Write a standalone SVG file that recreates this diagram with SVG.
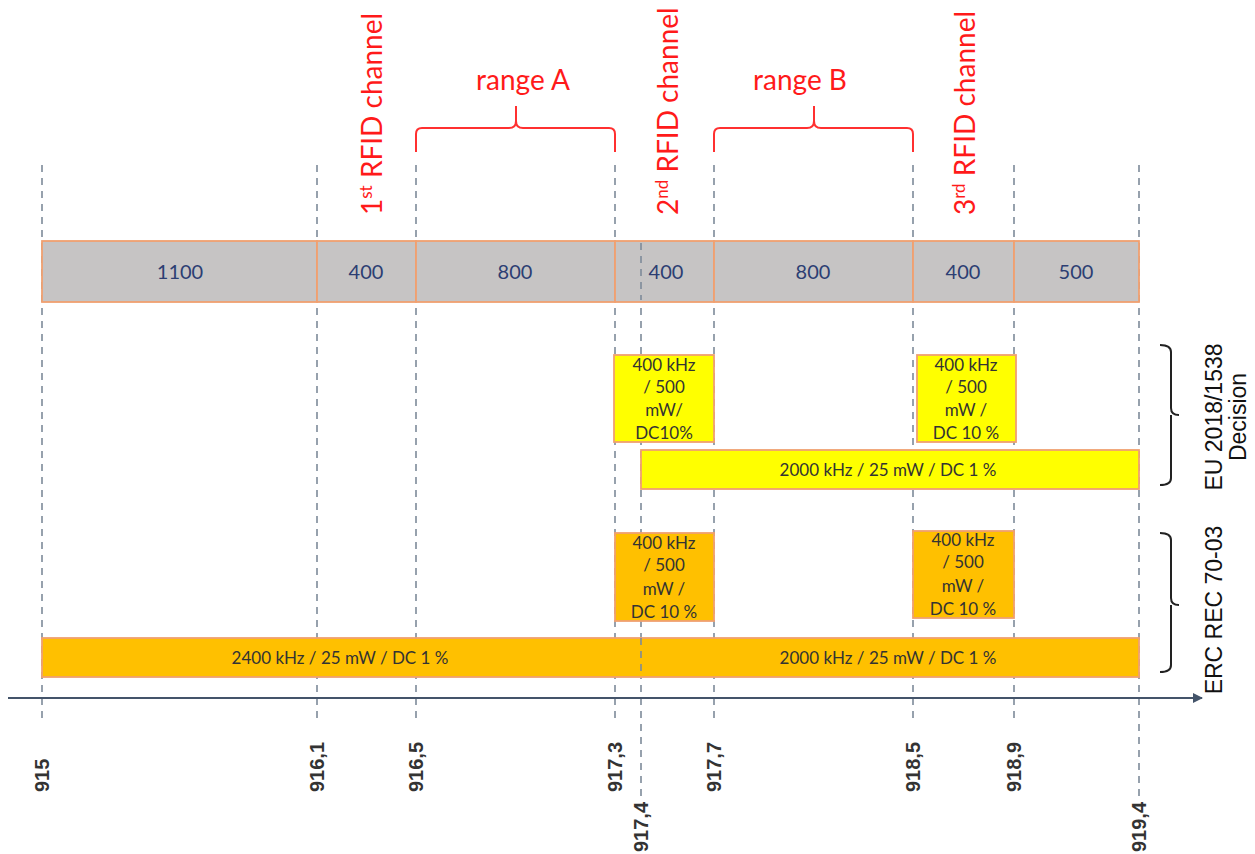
<svg xmlns="http://www.w3.org/2000/svg" width="1255" height="854" viewBox="0 0 1255 854">
<defs>
<style>
.dash{stroke:#7d8a99;stroke-width:1.6;stroke-dasharray:7 6;fill:none}
.seg{fill:#c6c4c4;stroke:#f0a070;stroke-width:1.8}
.segt{font-family:Lato,"Liberation Sans",sans-serif;font-size:20px;fill:#2c3e73;text-anchor:middle}
.ybox{fill:#ffff00;stroke:#f0a070;stroke-width:1.8}
.obox{fill:#ffc000;stroke:#f0a070;stroke-width:1.8}
.bt{font-family:Lato,"Liberation Sans",sans-serif;font-size:17px;fill:#333;text-anchor:middle}
.red{font-family:Lato,"Liberation Sans",sans-serif;font-size:28px;fill:#ff1a1a}
.brace{fill:none;stroke:#ff3030;stroke-width:2}
.rb{fill:none;stroke:#222;stroke-width:2}
.rl{font-family:"Liberation Sans",Arial,sans-serif;font-size:23px;fill:#111;text-anchor:middle}
.ax{font-family:"Liberation Sans",Arial,sans-serif;font-size:20px;font-weight:bold;fill:#333}
</style>
<marker id="arr" markerWidth="10" markerHeight="10" refX="9" refY="5" orient="auto" markerUnits="userSpaceOnUse"><path d="M0,0 L10,5 L0,10 z" fill="#44546a"/></marker>
</defs>
<rect width="1255" height="854" fill="#fff"/>
<g id="gridlines">
<line class="dash" x1="42" y1="165" x2="42" y2="718"/>
<line class="dash" x1="317" y1="165" x2="317" y2="718"/>
<line class="dash" x1="416" y1="165" x2="416" y2="718"/>
<line class="dash" x1="615" y1="165" x2="615" y2="718"/>
<line class="dash" x1="641" y1="243" x2="641" y2="800"/>
<line class="dash" x1="714" y1="165" x2="714" y2="718"/>
<line class="dash" x1="913" y1="165" x2="913" y2="718"/>
<line class="dash" x1="1014" y1="165" x2="1014" y2="718"/>
<line class="dash" x1="1139" y1="165" x2="1139" y2="796"/>
</g>
<g id="connectors">
<line x1="8" y1="698" x2="1202" y2="698" stroke="#44546a" stroke-width="2" marker-end="url(#arr)"/>
</g>
<g id="bar">
<rect class="seg" x="42" y="241" width="275" height="61"/>
<rect class="seg" x="317" y="241" width="99" height="61"/>
<rect class="seg" x="416" y="241" width="199" height="61"/>
<rect class="seg" x="615" y="241" width="99" height="61"/>
<rect class="seg" x="714" y="241" width="199" height="61"/>
<rect class="seg" x="913" y="241" width="101" height="61"/>
<rect class="seg" x="1014" y="241" width="125" height="61"/>
<line class="dash" x1="641" y1="243" x2="641" y2="300"/>
<text class="segt" x="180" y="279">1100</text>
<text class="segt" x="366" y="279">400</text>
<text class="segt" x="515" y="279">800</text>
<text class="segt" x="666" y="279">400</text>
<text class="segt" x="813" y="279">800</text>
<text class="segt" x="963" y="279">400</text>
<text class="segt" x="1076" y="279">500</text>
</g>
<g id="eu-box1">
<rect class="ybox" x="614" y="355" width="100" height="87"/>
<text class="bt" x="664" y="371">400 kHz</text>
<text class="bt" x="664" y="393">/ 500</text>
<text class="bt" x="664" y="416">mW/</text>
<text class="bt" x="664" y="439">DC10%</text>
</g>
<g id="eu-box2">
<rect class="ybox" x="917" y="355" width="99" height="87"/>
<text class="bt" x="966" y="371">400 kHz</text>
<text class="bt" x="966" y="393">/ 500</text>
<text class="bt" x="966" y="416">mW /</text>
<text class="bt" x="966" y="439">DC 10 %</text>
</g>
<g id="eu-bar">
<rect class="ybox" x="641" y="450" width="498" height="39"/>
<text class="bt" x="888" y="476">2000 kHz / 25 mW / DC 1 %</text>
</g>
<g id="erc-box1">
<rect class="obox" x="615" y="533" width="99" height="88"/>
<text class="bt" x="664" y="549">400 kHz</text>
<text class="bt" x="664" y="571">/ 500</text>
<text class="bt" x="664" y="595">mW /</text>
<text class="bt" x="664" y="618">DC 10 %</text>
</g>
<g id="erc-box2">
<rect class="obox" x="913" y="531" width="101" height="87"/>
<text class="bt" x="963" y="546">400 kHz</text>
<text class="bt" x="963" y="568">/ 500</text>
<text class="bt" x="963" y="592">mW /</text>
<text class="bt" x="963" y="615">DC 10 %</text>
</g>
<g id="erc-bar">
<rect class="obox" x="42" y="638" width="1097" height="39"/>
<line class="dash" x1="641" y1="638" x2="641" y2="677"/>
<text class="bt" x="340" y="664">2400 kHz / 25 mW / DC 1 %</text>
<text class="bt" x="888" y="664">2000 kHz / 25 mW / DC 1 %</text>
</g>
<g id="ch1"><text class="red" transform="translate(382,215) rotate(-90)">1<tspan dy="-10" font-size="17">st</tspan><tspan dy="10"> RFID channel</tspan></text></g>
<g id="ch2"><text class="red" transform="translate(678,215) rotate(-90)">2<tspan dy="-10" font-size="17">nd</tspan><tspan dy="10"> RFID channel</tspan></text></g>
<g id="ch3"><text class="red" transform="translate(975,215) rotate(-90)">3<tspan dy="-10" font-size="17">rd</tspan><tspan dy="10"> RFID channel</tspan></text></g>
<g id="rangeA">
<text class="red" x="523" y="90" text-anchor="middle">range A</text>
<path class="brace" d="M416,152 V134 Q416,128 422,128 H509 Q516,128 516,121 V106 M516,121 Q516,128 523,128 H609 Q615,128 615,134 V152"/>
</g>
<g id="rangeB">
<text class="red" x="800" y="90" text-anchor="middle">range B</text>
<path class="brace" d="M714,152 V134 Q714,128 720,128 H807 Q814,128 814,121 V106 M814,121 Q814,128 821,128 H907 Q913,128 913,134 V152"/>
</g>
<g id="eu-label">
<path class="rb" d="M1160,345 Q1171,345 1171,352 V408 Q1171,415 1179,415 M1171,415 V478 Q1171,485 1160,485"/>
<text class="rl" transform="translate(1222,417) rotate(-90)">EU 2018/1538</text>
<text class="rl" transform="translate(1246,417) rotate(-90)">Decision</text>
</g>
<g id="erc-label">
<path class="rb" d="M1160,533 Q1171,533 1171,540 V598 Q1171,605 1179,605 M1171,605 V665 Q1171,672 1160,672"/>
<text class="rl" transform="translate(1222,610) rotate(-90)">ERC REC 70-03</text>
</g>
<g id="axis-labels">
<text class="ax" transform="translate(49,792) rotate(-90)">915</text>
<text class="ax" transform="translate(324,792) rotate(-90)">916,1</text>
<text class="ax" transform="translate(423,792) rotate(-90)">916,5</text>
<text class="ax" transform="translate(622,792) rotate(-90)">917,3</text>
<text class="ax" transform="translate(648,852) rotate(-90)">917,4</text>
<text class="ax" transform="translate(721,792) rotate(-90)">917,7</text>
<text class="ax" transform="translate(920,792) rotate(-90)">918,5</text>
<text class="ax" transform="translate(1021,792) rotate(-90)">918,9</text>
<text class="ax" transform="translate(1146,852) rotate(-90)">919,4</text>
</g>
</svg>
